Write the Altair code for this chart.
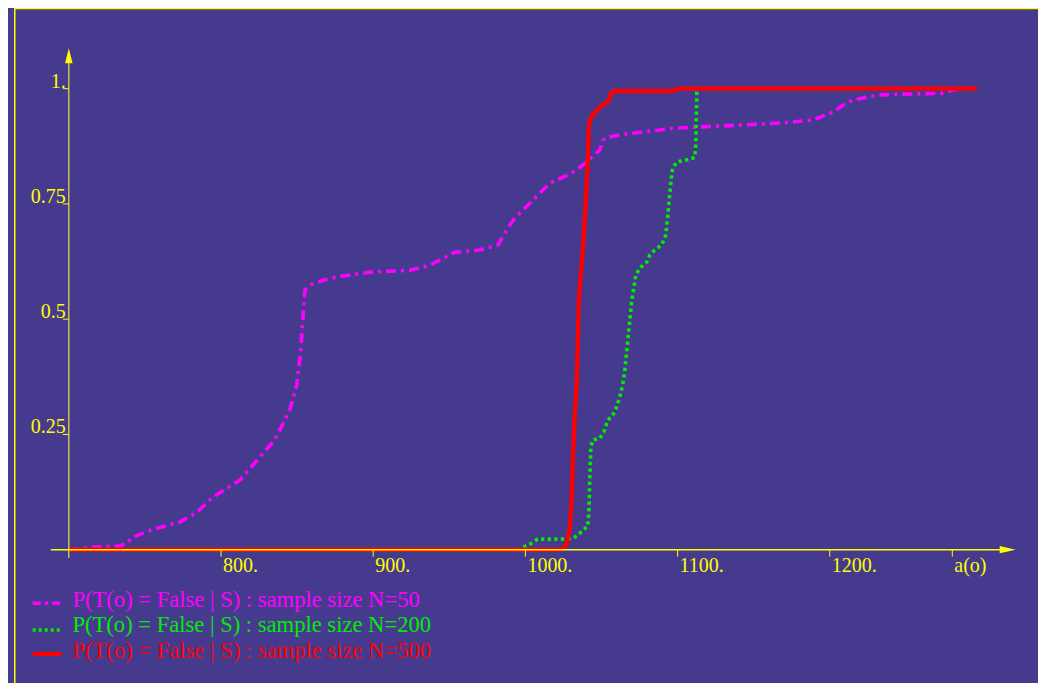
import altair as alt
import pandas as pd

# ---- data ----
x50 = [700, 715.1, 733.5, 738.1, 742.0, 755.2, 772.9, 784.1, 794.6, 812.4, 835.3, 845.2, 849.8, 852.4, 855.1,
       859.7, 871.5, 897.8, 924.0, 937.2, 953.6, 970.0, 981.9, 989.7, 993.0, 1004.9, 1016.0, 1030.5, 1037.7,
       1048.9, 1050.9, 1053.5, 1064.0, 1081.7, 1096.8, 1114.6, 1140.9, 1173.7, 1188.8, 1202.0, 1208.5, 1215.1,
       1230.9, 1246.0, 1274.2, 1280.8, 1285.4]
y50 = [0, 0.005, 0.008, 0.014, 0.027, 0.044, 0.060, 0.081, 0.114, 0.151, 0.238, 0.303, 0.357, 0.433, 0.563,
       0.576, 0.589, 0.602, 0.606, 0.617, 0.645, 0.650, 0.661, 0.704, 0.719, 0.758, 0.795, 0.817, 0.834,
       0.867, 0.888, 0.894, 0.901, 0.908, 0.914, 0.917, 0.921, 0.927, 0.932, 0.949, 0.964, 0.975,
       0.986, 0.988, 0.990, 0.997, 0.999]

x200 = [700, 996.3, 998.3, 1002.9, 1008.1, 1024.6, 1031.1, 1034.4, 1037.7, 1041.0, 1041.7, 1042.3, 1043.0,
        1044.3, 1048.9, 1051.5, 1054.1, 1057.4, 1059.4, 1060.7, 1062.0, 1064.0, 1065.3, 1067.3, 1069.9,
        1072.5, 1075.2, 1079.8, 1081.7, 1085.0, 1089.6, 1092.2, 1093.6, 1094.9, 1096.2, 1096.8, 1099.5,
        1108.0, 1111.3, 1112.0, 1112.6, 1113.3]
y200 = [0, 0, 0.005, 0.012, 0.023, 0.023, 0.025, 0.031, 0.042, 0.051, 0.079, 0.151, 0.222,
        0.238, 0.242, 0.255, 0.281, 0.292, 0.305, 0.318, 0.331, 0.359, 0.389, 0.454, 0.541,
        0.595, 0.611, 0.624, 0.639, 0.650, 0.661, 0.682, 0.726, 0.773, 0.817, 0.828, 0.841,
        0.847, 0.851, 0.882, 0.990, 1.0]

x500 = [700, 1023.9, 1027.2, 1029.2, 1030.5, 1031.1, 1032.5, 1033.8, 1035.1, 1037.7, 1039.7, 1041.0,
        1041.7, 1043.0, 1046.9, 1050.2, 1054.1, 1056.8, 1058.7, 1096.8, 1100.1, 1296.6]
y500 = [0, 0, 0.014, 0.049, 0.114, 0.188, 0.296, 0.368, 0.541, 0.650, 0.758, 0.845,
        0.917, 0.938, 0.953, 0.964, 0.971, 0.992, 0.995, 0.995, 1.0, 1.0]

x_ticks = [800, 900, 1000, 1100, 1200, 1280.5]
x_tick_labels = ["800.", "900.", "1000.", "1100.", "1200.", "a(o)"]
y_ticks = [0.25, 0.5, 0.75, 1.0]
y_tick_labels = ["0.25", "0.5", "0.75", "1."]

legend_labels = ["P(T(o) = False | S) : sample size N=50",
                 "P(T(o) = False | S) : sample size N=200",
                 "P(T(o) = False | S) : sample size N=500"]

MAGENTA = "#FF00FF"
GREEN = "#00EE00"
RED = "#FF0000"
YELLOW = "#FFFF00"
BG = "#463A8F"
FONT = "Liberation Serif"

XMIN, XMAX = 664, 1336.8
YMIN, YMAX = -0.29, 1.175
X = alt.Scale(domain=[XMIN, XMAX], nice=False, zero=False)
Y = alt.Scale(domain=[YMIN, YMAX], nice=False, zero=False)


def series(xs, ys):
    return pd.DataFrame({"x": xs, "y": ys, "i": list(range(len(xs)))})


def line_layer(df, color, width, dash=None):
    kw = dict(color=color, strokeWidth=width, clip=False)
    if dash:
        kw["strokeDash"] = dash
    return alt.Chart(df).mark_line(**kw).encode(
        x=alt.X("x:Q", scale=X, axis=None),
        y=alt.Y("y:Q", scale=Y, axis=None),
        order=alt.Order("i:Q"),
    )


l50 = line_layer(series(x50, y50), MAGENTA, 3.6, [10, 5, 3, 5])
l200 = line_layer(series(x200, y200), GREEN, 3.6, [3.3, 3.3])
l500 = line_layer(series(x500, y500), RED, 4.3)


# ---- axes ----
def rule(df, color, width, dash=None):
    kw = dict(color=color, strokeWidth=width)
    if dash:
        kw["strokeDash"] = dash
    return alt.Chart(df).mark_rule(**kw).encode(
        x=alt.X("x:Q", scale=X, axis=None), x2="x2:Q",
        y=alt.Y("y:Q", scale=Y, axis=None), y2="y2:Q",
    )


xaxis = rule(pd.DataFrame({"x": [688.2], "x2": [1312.0], "y": [0], "y2": [0]}), YELLOW, 1.5)
yaxis = rule(pd.DataFrame({"x": [700], "x2": [700], "y": [-0.018], "y2": [1.056]}), "#E8E040", 1.2)

xarrow = alt.Chart(pd.DataFrame({"x": [1316.9], "y": [0]})).mark_point(
    shape="M-1,-0.45 L1,0 L-1,0.45 Z", size=256, filled=True, color=YELLOW, opacity=1
).encode(x=alt.X("x:Q", scale=X, axis=None), y=alt.Y("y:Q", scale=Y, axis=None))
yarrow = alt.Chart(pd.DataFrame({"x": [700], "y": [1.0716]})).mark_point(
    shape="M-0.5,1 L0,-1 L0.5,1 Z", size=225, filled=True, color=YELLOW, opacity=1
).encode(x=alt.X("x:Q", scale=X, axis=None), y=alt.Y("y:Q", scale=Y, axis=None))

xt = pd.DataFrame({"x": x_ticks, "x2": x_ticks, "y": [0] * len(x_ticks),
                   "y2": [-0.0152] * len(x_ticks), "label": x_tick_labels})
xtick_rules = rule(xt, YELLOW, 1)
xtick_text = alt.Chart(xt).mark_text(
    align="left", baseline="alphabetic", dx=2, dy=22, font=FONT, fontSize=20, color=YELLOW
).encode(x=alt.X("x:Q", scale=X, axis=None), y=alt.Y("y:Q", scale=Y, axis=None), text="label:N")

yt = pd.DataFrame({"x": [696.1] * len(y_ticks), "x2": [700] * len(y_ticks),
                   "y": y_ticks, "y2": y_ticks, "label": y_tick_labels})
ytick_rules = rule(yt, YELLOW, 1)
ytick_text = alt.Chart(yt.assign(xl=[698.0] * len(y_ticks))).mark_text(
    align="right", baseline="alphabetic", dy=-1, font=FONT, fontSize=20, color=YELLOW
).encode(x=alt.X("xl:Q", scale=X, axis=None), y=alt.Y("y:Q", scale=Y, axis=None), text="label:N")

# ---- frame (top and left border) ----
frame_left = rule(pd.DataFrame({"x": [XMIN + 0.5], "x2": [XMIN + 0.5], "y": [YMIN], "y2": [YMAX]}), YELLOW, 1.5)
frame_top = rule(pd.DataFrame({"x": [XMIN], "x2": [XMAX], "y": [YMAX - 0.001], "y2": [YMAX - 0.001]}), YELLOW, 1.5)

# ---- legend ----
leg_line_y = [-0.1163, -0.1742, -0.2262]
leg_text_y = [-0.1236, -0.1792, -0.2349]
leg_colors = [MAGENTA, GREEN, RED]
lg1 = rule(pd.DataFrame({"x": [676.3], "x2": [695.4], "y": [leg_line_y[0]], "y2": [leg_line_y[0]]}),
           MAGENTA, 3.6, [8, 4, 3.5, 4])
lg2 = rule(pd.DataFrame({"x": [676.3], "x2": [695.4], "y": [leg_line_y[1]], "y2": [leg_line_y[1]]}),
           GREEN, 3.6, [3, 3])
lg3 = rule(pd.DataFrame({"x": [676.3], "x2": [695.4], "y": [leg_line_y[2]], "y2": [leg_line_y[2]]}),
           RED, 4)
leg_text = alt.Chart(pd.DataFrame({"x": [702.4] * 3, "y": leg_text_y, "label": legend_labels,
                                   "c": leg_colors})).mark_text(
    align="left", baseline="alphabetic", font=FONT, fontSize=22.6
).encode(x=alt.X("x:Q", scale=X, axis=None), y=alt.Y("y:Q", scale=Y, axis=None),
         text="label:N", color=alt.Color("c:N", scale=None))

chart = alt.layer(
    frame_left, frame_top,
    l50, l200, l500,
    xaxis, yaxis, xarrow, yarrow,
    xtick_rules, xtick_text, ytick_rules, ytick_text,
    lg1, lg2, lg3, leg_text,
).properties(
    width=1024, height=675.4,
    padding={"left": 6, "top": 0, "right": 0, "bottom": 0},
    autosize=alt.AutoSizeParams(type="none"),
    background=BG,
).configure_view(strokeWidth=0)

chart.save("out.html", embed_options={"renderer": "svg", "actions": False})
